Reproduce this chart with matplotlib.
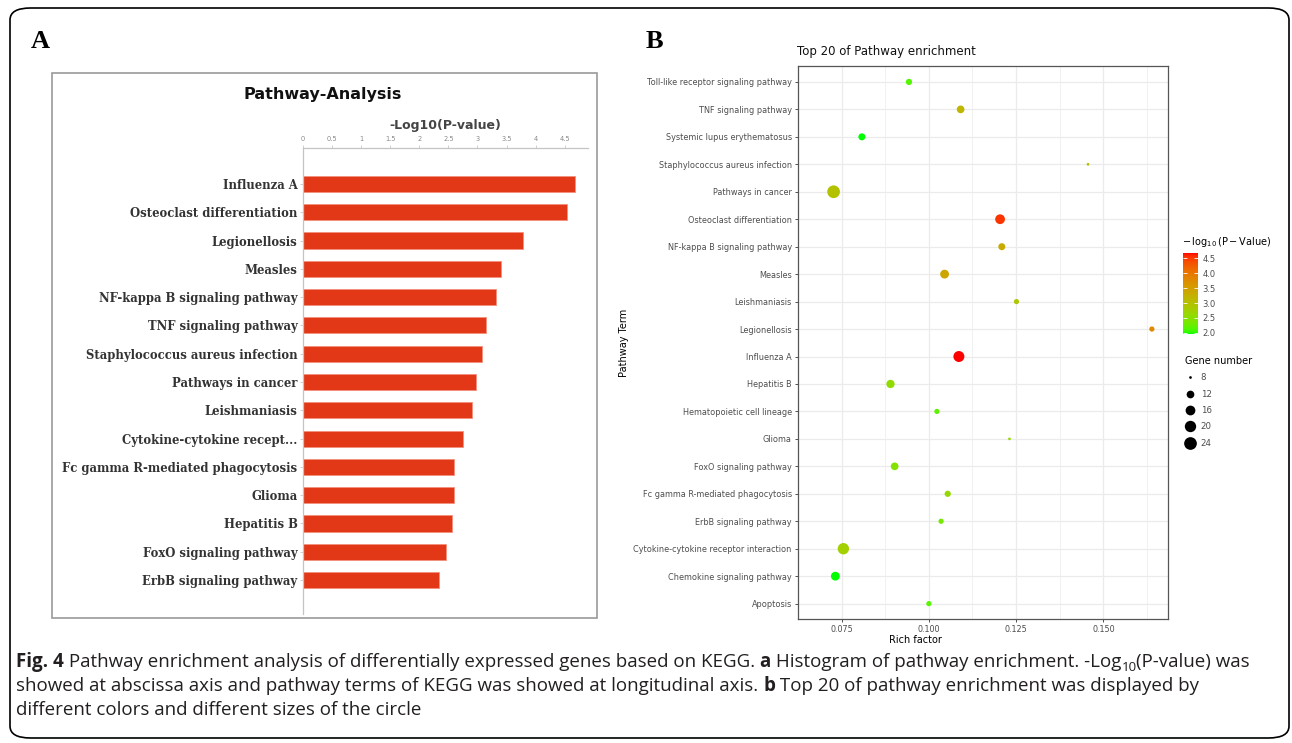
import numpy as np
import matplotlib
matplotlib.use('Agg')
import matplotlib.pyplot as plt
from matplotlib.colors import ListedColormap, Normalize
from matplotlib.cm import ScalarMappable
from matplotlib.lines import Line2D
from matplotlib.patches import FancyBboxPatch, Rectangle

W, H = 1292, 743

# panel A: -log10(P) of the top 15 pathways
a_terms = ['Influenza A', 'Osteoclast differentiation', 'Legionellosis', 'Measles',
           'NF-kappa B signaling pathway', 'TNF signaling pathway',
           'Staphylococcus aureus infection', 'Pathways in cancer', 'Leishmaniasis',
           'Cytokine-cytokine recept...', 'Fc gamma R-mediated phagocytosis', 'Glioma',
           'Hepatitis B', 'FoxO signaling pathway', 'ErbB signaling pathway']
a_logp = [4.68, 4.54, 3.79, 3.40, 3.31, 3.15, 3.07, 2.97, 2.90, 2.75, 2.60, 2.59, 2.56, 2.45, 2.34]
a_ticks = [0, 0.5, 1, 1.5, 2, 2.5, 3, 3.5, 4, 4.5]

# panel B: top 20 pathways, listed top to bottom
b_terms = ['Toll-like receptor signaling pathway', 'TNF signaling pathway',
           'Systemic lupus erythematosus', 'Staphylococcus aureus infection',
           'Pathways in cancer', 'Osteoclast differentiation', 'NF-kappa B signaling pathway',
           'Measles', 'Leishmaniasis', 'Legionellosis', 'Influenza A', 'Hepatitis B',
           'Hematopoietic cell lineage', 'Glioma', 'FoxO signaling pathway',
           'Fc gamma R-mediated phagocytosis', 'ErbB signaling pathway',
           'Cytokine-cytokine receptor interaction', 'Chemokine signaling pathway', 'Apoptosis']
b_rich = [0.0943, 0.1091, 0.0808, 0.1456, 0.0727, 0.1204, 0.1209, 0.1045, 0.1251, 0.1639,
          0.1086, 0.0890, 0.1023, 0.1231, 0.0902, 0.1054, 0.1035, 0.0755, 0.0732, 0.1000]
b_genes = [10, 12, 11, 8, 24, 16, 11, 14, 9, 9, 19, 13, 9, 8, 12, 10, 9, 20, 14, 9]
b_logp = [2.15, 3.15, 1.97, 3.07, 2.97, 4.54, 3.31, 3.40, 2.90, 3.79,
          4.68, 2.56, 2.20, 2.59, 2.45, 2.60, 2.34, 2.75, 1.96, 2.18]
b_xticks = [0.075, 0.100, 0.125, 0.150]
cbar_ticks = [2.0, 2.5, 3.0, 3.5, 4.0, 4.5]
size_breaks = [8, 12, 16, 20, 24]


def srgb_to_lab(c):
    c = np.asarray(c, float)
    lin = np.where(c <= 0.04045, c / 12.92, ((c + 0.055) / 1.055) ** 2.4)
    m = np.array([[0.4124, 0.3576, 0.1805], [0.2126, 0.7152, 0.0722], [0.0193, 0.1192, 0.9505]])
    xyz = m @ lin / np.array([0.95047, 1.0, 1.08883])
    f = np.where(xyz > 0.008856, np.cbrt(xyz), 7.787 * xyz + 16 / 116)
    return np.array([116 * f[1] - 16, 500 * (f[0] - f[1]), 200 * (f[1] - f[2])])


def lab_to_srgb(lab):
    L, a, b = lab
    fy = (L + 16) / 116
    f = np.array([fy + a / 500, fy, fy - b / 200])
    xyz = np.where(f ** 3 > 0.008856, f ** 3, (f - 16 / 116) / 7.787) * np.array([0.95047, 1.0, 1.08883])
    mi = np.array([[3.2406, -1.5372, -0.4986], [-0.9689, 1.8758, 0.0415], [0.0557, -0.2040, 1.0570]])
    lin = np.clip(mi @ xyz, 0, 1)
    return np.clip(np.where(lin <= 0.0031308, 12.92 * lin, 1.055 * lin ** (1 / 2.4) - 0.055), 0, 1)


# green -> red gradient interpolated in Lab space
lo, hi = srgb_to_lab([0, 1, 0]), srgb_to_lab([1, 0, 0])
cmap = ListedColormap([lab_to_srgb(lo + t * (hi - lo)) for t in np.linspace(0, 1, 256)])
norm = Normalize(vmin=min(b_logp), vmax=max(b_logp))


def dot_px(g):
    # area scale for gene number -> diameter in pixels
    g = np.asarray(g, float)
    return 2.7 + 10.0 * np.sqrt((g - min(size_breaks)) / (max(size_breaks) - min(size_breaks)))


def fbox(x0, y0, x1, y1):
    return [x0 / W, 1 - y1 / H, (x1 - x0) / W, (y1 - y0) / H]


fig = plt.figure(figsize=(W / 100, H / 100), dpi=100)

# outer rounded frame and panel A frame
fig.patches.append(FancyBboxPatch((10 / W, 5 / H), 1279 / W, 730 / H,
                                  boxstyle='round,pad=0,rounding_size=0.016',
                                  transform=fig.transFigure, fill=False, ec='black', lw=1.2))
fig.patches.append(Rectangle((52 / W, 1 - 618 / H), 545 / W, 545 / H, transform=fig.transFigure,
                             fill=False, ec='#9a9a9a', lw=1.2))

fig.text(40 / W, 1 - 42 / H, 'A', family='Liberation Serif', weight='bold', fontsize=19,
         ha='center', va='center')
fig.text(654 / W, 1 - 42 / H, 'B', family='Liberation Serif', weight='bold', fontsize=19,
         ha='center', va='center')

# ---- panel A: horizontal bars
axA = fig.add_axes(fbox(303, 148, 588, 614))
ya = np.arange(len(a_terms))
axA.barh(ya, a_logp, height=0.57, color='#e33817', edgecolor='#f2907c', lw=0.6)
axA.set_ylim(len(a_terms) - 1 + 1.2, -1.27)
axA.set_xlim(0, 4.9)
axA.set_yticks(ya)
axA.set_yticklabels(a_terms, family='DejaVu Serif', weight='bold', fontsize=8.4, color='#333333')
axA.xaxis.tick_top()
axA.set_xticks(a_ticks)
axA.set_xticklabels([f'{t:g}' for t in a_ticks], fontsize=4.8, color='#888888')
axA.tick_params(axis='x', length=2, width=0.5, color='#bbbbbb', pad=2)
axA.tick_params(axis='y', length=2, width=0.5, color='#bbbbbb', pad=2)
for s in ['right', 'bottom']:
    axA.spines[s].set_visible(False)
for s in ['top', 'left']:
    axA.spines[s].set_color('#c4c4c4')
    axA.spines[s].set_linewidth(0.9)
fig.text(323 / W, 1 - 95 / H, 'Pathway-Analysis', weight='bold', fontsize=11.5,
         ha='center', va='center', color='#111111')
fig.text(445 / W, 1 - 125 / H, '-Log10(P-value)', weight='bold', fontsize=9,
         ha='center', va='center', color='#444444')

# ---- panel B: bubble chart
axB = fig.add_axes(fbox(798, 66, 1168, 619))
yb = np.arange(len(b_terms))
d = dot_px(b_genes) * 0.72
axB.scatter(b_rich, yb, s=d ** 2, c=b_logp, cmap=cmap, norm=norm, linewidths=0, zorder=3)
axB.set_ylim(len(b_terms) - 1 + 0.56, -0.58)
axB.set_xlim(0.06822, 0.16852)
axB.set_yticks(yb)
axB.set_yticklabels(b_terms, fontsize=5.9, color='#4d4d4d')
axB.set_xticks(b_xticks)
axB.set_xticklabels([f'{t:.3f}' for t in b_xticks], fontsize=5.8, color='#4d4d4d')
axB.set_xticks([0.0625, 0.0875, 0.1125, 0.1375, 0.1625], minor=True)
axB.tick_params(axis='both', which='major', length=2.5, width=0.6, color='#333333', pad=2)
axB.tick_params(axis='x', which='minor', length=0)
axB.grid(True, which='major', color='#ebebeb', lw=0.9, zorder=0)
axB.grid(True, which='minor', axis='x', color='#ebebeb', lw=0.5, zorder=0)
axB.set_axisbelow(True)
for s in axB.spines.values():
    s.set_color('#555555')
    s.set_linewidth(0.9)
fig.text(797 / W, 1 - 52 / H, 'Top 20 of Pathway enrichment', fontsize=8.5,
         ha='left', va='center', color='#111111')
fig.text(915 / W, 1 - 640 / H, 'Rich factor', fontsize=7, ha='center', va='center')
fig.text(624 / W, 1 - 343 / H, 'Pathway Term', fontsize=7, ha='center', va='center', rotation=90)

# colour bar
cax = fig.add_axes(fbox(1183, 253, 1198, 334))
cb = fig.colorbar(ScalarMappable(norm=norm, cmap=cmap), cax=cax, ticks=cbar_ticks)
cb.outline.set_visible(False)
cb.ax.set_yticklabels([f'{t:.1f}' for t in cbar_ticks])
cb.ax.tick_params(left=True, right=True, direction='in', length=3, width=0.6,
                  color='white', labelsize=6, labelcolor='#4d4d4d', pad=3)
fig.text(1182 / W, 1 - 242 / H, r'$-\,\log_{10}(\mathrm{P}-\mathrm{Value})$', fontsize=7,
         ha='left', va='center')

# size legend
handles = [Line2D([], [], ls='none', marker='o', color='black', markeredgewidth=0,
                  markersize=float(dot_px(g)) * 0.72) for g in size_breaks]
leg = fig.legend(handles, [str(g) for g in size_breaks], title='Gene number',
                 loc='upper left', bbox_to_anchor=(1179 / W, 1 - 350 / H), frameon=False,
                 fontsize=6.2, title_fontsize=7, labelspacing=0.85, handlelength=1.2,
                 handletextpad=0.6, borderpad=0.2)
leg._legend_box.align = 'left'
for t in leg.get_texts():
    t.set_color('#4d4d4d')

# caption with bold parts and a subscript
fig.canvas.draw()
renderer = fig.canvas.get_renderer()
cap_font = 'Open Sans'
cap_size = 13.5


def caption_line(x, y, pieces):
    for txt, style in pieces:
        kw = dict(family=cap_font, fontsize=cap_size, color='#231f20')
        dy = 0
        if style == 'b':
            kw['weight'] = 'bold'
        elif style == 'sub':
            kw['fontsize'] = cap_size * 0.7
            dy = 4
        t = fig.text(x / W, 1 - (y + dy) / H, txt, ha='left', va='baseline', **kw)
        x = t.get_window_extent(renderer).x1


caption_line(16, 667, [('Fig. 4', 'b'),
                       (' Pathway enrichment analysis of differentially expressed genes based on KEGG. ', ''),
                       ('a', 'b'), (' Histogram of pathway enrichment. -Log', ''), ('10', 'sub'),
                       ('(P-value) was', '')])
caption_line(16, 691, [('showed at abscissa axis and pathway terms of KEGG was showed at longitudinal axis. ', ''),
                       ('b', 'b'), (' Top 20 of pathway enrichment was displayed by', '')])
caption_line(16, 715, [('different colors and different sizes of the circle', '')])

fig.savefig('out.png', dpi=100)
